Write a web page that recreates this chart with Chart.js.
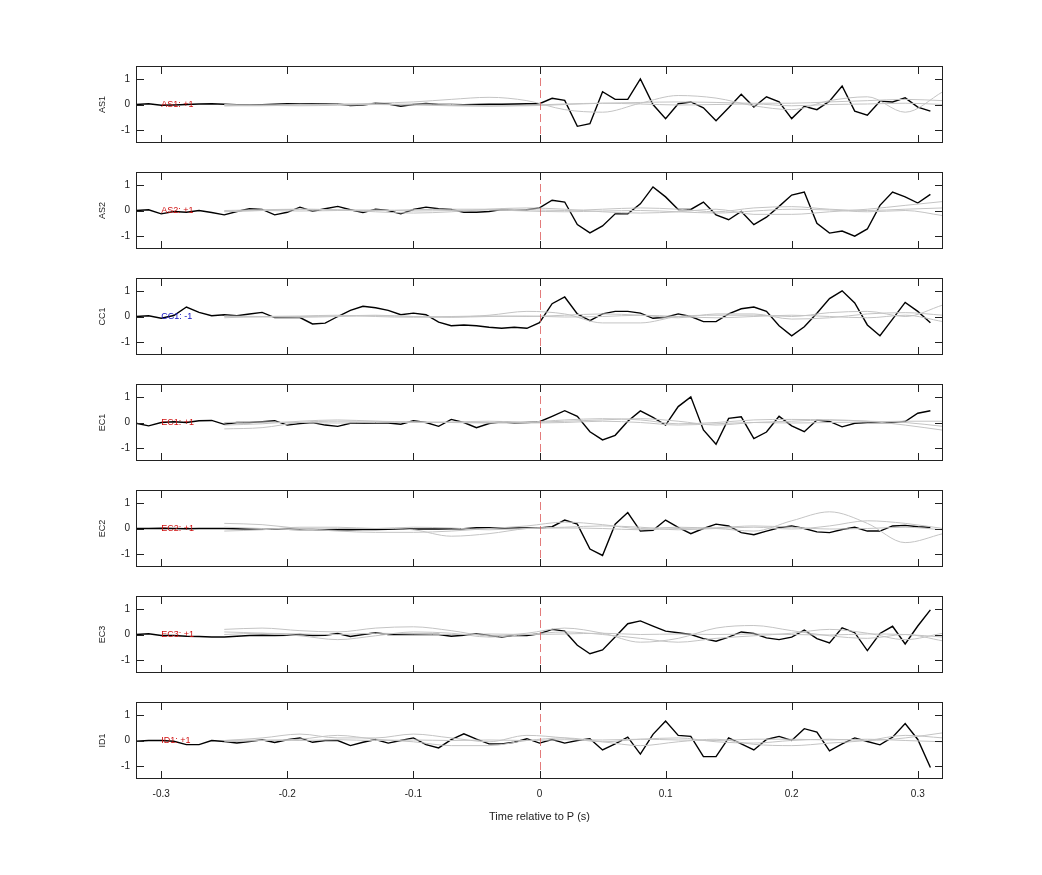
<!DOCTYPE html>
<html><head><meta charset="utf-8">
<script src="https://cdn.jsdelivr.net/npm/chart.js@4"></script>
<style>body{margin:0;background:#fff;width:1042px;height:875px;position:relative;overflow:hidden}
.p{position:absolute;left:0;width:1042px}</style></head><body>
<script>
const channels = ["AS1","AS2","CC1","EC1","EC2","EC3","ID1"];
const polarity = ["AS1: +1","AS2: +1","CC1: -1","EC1: +1","EC2: +1","EC3: +1","ID1: +1"];
const polarityColor = ["#d01010","#d01010","#1010c0","#d01010","#d01010","#d01010","#d01010"];
const xTicks = [-0.3,-0.2,-0.1,0,0.1,0.2,0.3];
const yTicks = [-1,0,1];
// black trace times: -0.32 .. 0.31 step 0.01
const blackX = Array.from({length:64},(_,i)=>+(-0.32+i*0.01).toFixed(2));
const grayX = [-0.25,-0.22,-0.19,-0.16,-0.13,-0.10,-0.07,-0.04,-0.01,0.02,0.05,0.08,0.11,0.14,0.17,0.20,0.23,0.26,0.29,0.32];

const AS1 = [0,0.03,-0.03,-0.02,0,0.02,0.03,0.01,-0.01,-0.02,-0.01,0.01,0.03,0.02,0.03,0.03,0.02,-0.04,-0.02,0.05,0.02,-0.07,0,0.04,0,0,-0.01,0,0.01,0.01,0.02,0.03,
 0.03,0.24,0.16,-0.85,-0.75,0.5,0.2,0.2,1.0,0,-0.55,0.03,0.1,-0.13,-0.63,-0.13,0.4,-0.1,0.3,0.1,-0.55,-0.07,-0.2,0.13,0.72,-0.26,-0.42,0.13,0.1,0.26,-0.1,-0.26];
const AS2 = [0,0.03,-0.13,-0.04,-0.07,0,-0.08,-0.17,-0.04,0.07,0.04,-0.17,-0.07,0.13,-0.03,0.07,0.16,0.03,-0.08,0.05,0,-0.13,0.04,0.13,0.07,0.04,-0.07,-0.07,-0.04,0.04,0.03,0.03,
 0.1,0.4,0.33,-0.55,-0.87,-0.6,-0.13,-0.13,0.26,0.92,0.53,0.04,0.04,0.33,-0.17,-0.36,-0.04,-0.55,-0.26,0.16,0.6,0.72,-0.5,-0.88,-0.8,-1.0,-0.72,0.2,0.72,0.53,0.29,0.63];
const CC1 = [0,0.03,-0.07,0.04,0.37,0.16,0.03,0.07,0.03,0.1,0.16,-0.04,-0.04,-0.04,-0.29,-0.26,0,0.24,0.4,0.34,0.24,0.07,0.13,0.07,-0.22,-0.36,-0.33,-0.36,-0.42,-0.46,-0.42,-0.46,
 -0.24,0.5,0.76,0.1,-0.16,0.1,0.2,0.2,0.13,-0.07,-0.03,0.1,0,-0.2,-0.2,0.1,0.3,0.37,0.2,-0.36,-0.75,-0.4,0.13,0.7,1.0,0.53,-0.33,-0.75,-0.1,0.55,0.2,-0.24];
const EC1 = [-0.03,-0.13,0,0.03,0,0.07,0.08,-0.07,0,0,0.03,0.07,-0.1,-0.04,0,-0.1,-0.15,-0.03,-0.03,-0.02,-0.02,-0.07,0.07,0,-0.15,0.12,0,-0.2,-0.04,0.03,-0.02,0,
 0.03,0.24,0.46,0.24,-0.36,-0.68,-0.5,0.05,0.45,0.2,-0.1,0.62,1.0,-0.29,-0.85,0.16,0.22,-0.63,-0.37,0.24,-0.13,-0.36,0.1,0.04,-0.17,-0.03,0,0,0,0.04,0.36,0.46];
const EC2 = [0,0,0.01,0,-0.01,0,0,0,-0.01,-0.02,-0.02,-0.03,-0.03,-0.04,-0.04,-0.05,-0.05,-0.05,-0.04,-0.04,-0.03,-0.02,-0.02,-0.02,-0.02,-0.01,-0.01,0.03,0.03,0.02,0.02,0.02,
 0.02,0.07,0.33,0.17,-0.8,-1.05,0.17,0.62,-0.1,-0.07,0.33,0.04,-0.2,0,0.17,0.1,-0.16,-0.24,-0.1,0.03,0.1,0,-0.13,-0.16,-0.04,0.05,-0.1,-0.1,0.1,0.12,0.07,0.05];
const EC3 = [0,0.03,-0.04,-0.04,-0.07,-0.08,-0.1,-0.1,-0.07,-0.04,-0.03,-0.04,-0.03,0,-0.04,-0.03,0.04,-0.08,0,0.07,0,0,0,0,0,-0.07,-0.03,0.03,-0.04,-0.1,-0.03,-0.04,
 0.03,0.2,0.13,-0.42,-0.75,-0.6,-0.1,0.42,0.53,0.33,0.13,0.07,0,-0.16,-0.26,-0.1,0.1,0.04,-0.13,-0.2,-0.1,0.17,-0.16,-0.33,0.26,0.07,-0.63,0.04,0.32,-0.37,0.33,0.96];
const ID1 = [-0.03,0,0,-0.03,-0.16,-0.16,0,-0.04,-0.1,-0.04,0.03,-0.08,0.03,0.1,-0.07,0,0,-0.2,-0.07,0.04,-0.1,0,0.1,-0.16,-0.29,0.03,0.26,0.05,-0.13,-0.13,-0.07,0.07,
 -0.1,0.04,-0.1,0,0.07,-0.37,-0.13,0.13,-0.53,0.24,0.76,0.2,0.16,-0.63,-0.63,0.1,-0.13,-0.37,0.04,0.16,0,0.46,0.33,-0.4,-0.13,0.1,-0.04,-0.17,0.13,0.66,0.04,-1.05];
const blackSeries = [AS1,AS2,CC1,EC1,EC2,EC3,ID1];

// gray traces (3 per channel), sampled at grayX
const grayAS1 = [[-0.05,-0.05,-0.02,0,0.05,0.1,0.2,0.28,0.15,-0.2,-0.3,0.05,0.35,0.25,-0.05,-0.2,0.15,0.3,-0.3,0.5],
 [0,-0.03,-0.05,-0.03,0,0.02,0,-0.05,-0.05,0,0.05,0.08,0.1,0.08,0.05,0.05,0.1,0.15,0.2,0.15],
 [-0.05,-0.02,0,0.02,0,-0.02,-0.05,-0.07,-0.03,0.02,0.05,0.02,-0.02,0,0.02,-0.05,0,0.02,0.05,0]];
const grayAS2 = [[-0.05,0,0.05,0.02,-0.05,-0.1,-0.05,0.05,0.1,0.05,-0.05,-0.1,-0.05,0.05,-0.15,-0.15,-0.05,0.05,0.2,0.35],
 [0,0.03,0.05,0.03,0,0.03,0.05,0.05,0.03,0,0.05,0.1,0.05,-0.05,0.1,0.15,0.05,0,0.05,0.1],
 [-0.03,0,-0.02,0,0.02,-0.02,0,0.02,-0.02,-0.05,-0.02,0,-0.05,-0.1,-0.02,0.05,0.02,-0.05,0,-0.2]];
const grayCC1 = [[0,-0.02,0,0.02,0.05,0,-0.02,0.05,0.2,0.1,-0.25,-0.25,0,0.05,0.05,0,0.15,0.2,0,0.45],
 [-0.05,0,0.02,0.05,0,-0.03,0,0.02,0,0.05,0.1,0.05,-0.05,0.1,0.1,-0.1,-0.05,0.1,0.15,0.05],
 [0.02,0,-0.03,0,0.03,0,-0.03,0,0.02,-0.02,0,0.05,0,-0.05,0,0.05,0,-0.05,0.05,-0.2]];
const grayEC1 = [[-0.25,-0.2,0,0.05,0.05,0.02,0,-0.02,0,0.05,0.1,0.15,0.05,-0.1,0,0.05,0.1,0.05,-0.1,-0.3],
 [-0.1,-0.05,0.05,0.1,0.05,0,0.02,0.05,0.02,0.1,0.15,0.1,-0.05,0,0.1,0.12,0.1,0.05,0,-0.15],
 [0,0.02,0,-0.02,0,0.02,0,0,-0.02,0,0.05,0,-0.1,-0.05,0,-0.02,0,0.02,0.05,0.05]];
const grayEC2 = [[0.2,0.15,0,-0.1,-0.15,-0.15,-0.1,0,0.1,0.25,0.15,0,0.05,0,-0.1,0.3,0.65,0.2,-0.55,-0.2],
 [0.05,0,-0.05,0,0,-0.05,-0.3,-0.2,0,0.05,0.1,0.05,-0.05,0,0.05,-0.02,0.1,0.3,0.2,0],
 [-0.1,-0.05,0.05,0.05,0,0.05,0.02,-0.05,0,0.02,0,-0.05,0,0.03,0.1,0.05,-0.02,0,0.05,-0.05]];
const grayEC3 = [[0.2,0.25,0.15,0.1,0.25,0.3,0.15,-0.05,0.05,0.25,0.05,-0.3,-0.15,0.25,0.35,0.15,-0.05,-0.15,0,-0.25],
 [0.1,0.05,-0.05,-0.2,-0.05,0.1,0.05,-0.1,0,0.1,0,-0.15,-0.3,-0.15,-0.05,0.05,0.2,0.05,-0.2,0.05],
 [0,0.05,0.02,0,0.05,0.02,0,0.02,0,0.02,0.05,0,0.02,0,0.02,0,-0.02,0.02,0,-0.1]];
const grayID1 = [[0,0.1,0.25,0.1,0.1,0.25,0.1,-0.05,0.2,0.1,-0.05,0.05,0.1,-0.05,-0.1,0,0.05,0,0.1,0.3],
 [-0.05,0,0.05,0.2,0.05,-0.05,-0.2,-0.2,0,0.1,-0.05,-0.2,-0.05,0.05,-0.15,-0.2,-0.1,0,0.2,0.1],
 [0,0.02,0,0.03,0,0.02,0,0.02,0,0.03,0.02,0.05,0.02,0,0.05,0.05,0.02,0.05,0,-0.05]];
const graySeries = [grayAS1,grayAS2,grayCC1,grayEC1,grayEC2,grayEC3,grayID1];

const FONT = "'Liberation Sans', Arial, sans-serif";
const panelTops = [66,172,278,384,490,596,702];
const PH = 76, TOPPAD = 10;

const deco = {
  id:'deco',
  afterDraw(chart, args, o){
    const {ctx, chartArea:a, scales:{x,y}} = chart;
    ctx.save();
    ctx.strokeStyle='rgba(220,90,90,0.8)'; ctx.lineWidth=1; ctx.setLineDash([8,4]);
    const x0 = Math.round(x.getPixelForValue(0))+0.5;
    ctx.beginPath(); ctx.moveTo(x0,a.top); ctx.lineTo(x0,a.bottom); ctx.stroke();
    ctx.setLineDash([]);
    ctx.strokeStyle='#222'; ctx.lineWidth=1;
    ctx.strokeRect(a.left+0.5,a.top+0.5,a.right-a.left-1,a.bottom-a.top-1);
    ctx.beginPath();
    xTicks.forEach(t=>{const px=Math.round(x.getPixelForValue(t))+0.5;
      ctx.moveTo(px,a.top); ctx.lineTo(px,a.top+8); ctx.moveTo(px,a.bottom); ctx.lineTo(px,a.bottom-8);});
    yTicks.forEach(t=>{const py=Math.round(y.getPixelForValue(t))+0.5;
      ctx.moveTo(a.left,py); ctx.lineTo(a.left+8,py); ctx.moveTo(a.right,py); ctx.lineTo(a.right-8,py);});
    ctx.stroke();
    ctx.fillStyle=o.color; ctx.font='9px '+FONT; ctx.textBaseline='middle'; ctx.textAlign='left';
    ctx.fillText(o.label, x.getPixelForValue(-0.3), y.getPixelForValue(0));
    ctx.fillStyle='#222'; ctx.font='9px '+FONT; ctx.textAlign='center';
    ctx.translate(103, y.getPixelForValue(0)); ctx.rotate(-Math.PI/2); ctx.fillText(o.title,0,0);
    ctx.restore();
  }
};

channels.forEach((ch,i)=>{
  const last = i===channels.length-1;
  const div=document.createElement('div'); div.className='p';
  const h = last ? 12+PH+50 : 12+PH+13;
  div.style.top=(panelTops[i]-12)+'px'; div.style.height=h+'px';
  const cv=document.createElement('canvas'); div.appendChild(cv); document.body.appendChild(div);
  const ds = graySeries[i].map(g=>({data:grayX.map((xv,k)=>({x:xv,y:g[k]})),borderColor:'#c4c4c4',borderWidth:1,pointRadius:0,tension:0.4,cubicInterpolationMode:'monotone'}));
  ds.push({data:blackX.map((xv,k)=>({x:xv,y:blackSeries[i][k]})),borderColor:'#000',borderWidth:1.4,pointRadius:0,tension:0});
  new Chart(cv,{type:'line',data:{datasets:ds},
    options:{responsive:true,maintainAspectRatio:false,animation:false,
      layout:{padding:{left:0,right:99,top:TOPPAD,bottom:0}},
      plugins:{legend:{display:false},tooltip:{enabled:false},deco:{label:polarity[i],color:polarityColor[i],title:ch}},
      scales:{
        x:{type:'linear',min:-0.32,max:0.32,grid:{display:false,drawTicks:false},border:{display:false},
          afterBuildTicks:s=>{s.ticks=xTicks.map(v=>({value:v}));},
          afterFit:s=>{s.height= last?49:10;},
          ticks:{display:last,padding:9,color:'#222',font:{family:FONT,size:10},callback:v=>String(+v.toFixed(2))},
          title:{display:last,text:'Time relative to P (s)',color:'#222',font:{family:FONT,size:11},padding:{top:8}}},
        y:{min:-1.5,max:1.5,grid:{display:false,drawTicks:false},border:{display:false},
          afterBuildTicks:s=>{s.ticks=yTicks.map(v=>({value:v}));},
          afterFit:s=>{s.width=136;},
          ticks:{padding:6,color:'#222',font:{family:FONT,size:10}}}
      }},
    plugins:[deco]});
});
</script></body></html>
